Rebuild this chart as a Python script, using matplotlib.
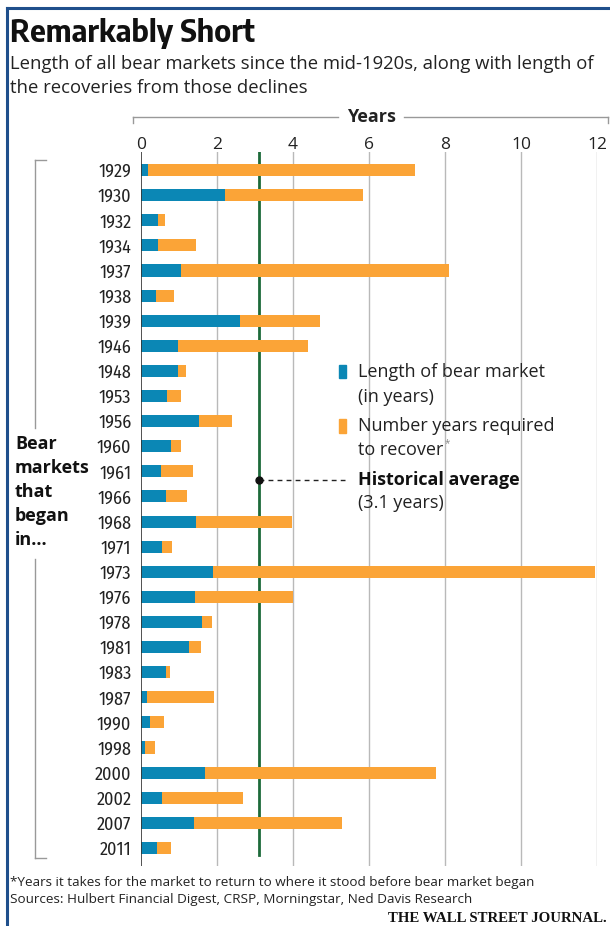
import matplotlib
matplotlib.use("Agg")
import matplotlib.pyplot as plt
from matplotlib.patches import Rectangle
from matplotlib.lines import Line2D

years = ["1929", "1930", "1932", "1934", "1937", "1938", "1939", "1946", "1948", "1953",
         "1956", "1960", "1961", "1966", "1968", "1971", "1973", "1976", "1978", "1981",
         "1983", "1987", "1990", "1998", "2000", "2002", "2007", "2011"]
bear_length = [0.19, 2.21, 0.46, 0.46, 1.04, 0.39, 2.60, 0.97, 0.98, 0.68,
               1.53, 0.79, 0.53, 0.65, 1.46, 0.56, 1.89, 1.42, 1.60, 1.27,
               0.65, 0.15, 0.23, 0.10, 1.68, 0.55, 1.40, 0.42]
recovery_years = [7.02, 3.64, 0.17, 1.00, 7.07, 0.48, 2.11, 3.43, 0.20, 0.37,
                  0.86, 0.26, 0.83, 0.55, 2.51, 0.26, 10.06, 2.59, 0.28, 0.31,
                  0.10, 1.77, 0.38, 0.27, 6.08, 2.13, 3.90, 0.37]
historical_avg = 3.1
x_ticks = [0, 2, 4, 6, 8, 10, 12]

BLUE = "#0b87b5"
ORANGE = "#fba437"
GREEN = "#1d6a3a"
GRID = "#b9b9b9"
NAVY = "#1f4f8c"

W, H = 610, 926
fig = plt.figure(figsize=(W / 100, H / 100), dpi=100)


def fx(x):
    return x / W


def fy(y):
    return 1 - y / H


def ftext(x, y, s, **kw):
    fig.text(fx(x), fy(y), s, **kw)


SANS = ["Open Sans", "DejaVu Sans"]
NARROW = ["Fira Sans Condensed", "Open Sans", "DejaVu Sans"]
TITLE = ["Encode Sans Semi Condensed", "Open Sans", "DejaVu Sans"]

ax_left, ax_right, ax_top, ax_bot = 141, 597, 152, 866
ax = fig.add_axes([fx(ax_left), fy(ax_bot), (ax_right - ax_left) / W, (ax_bot - ax_top) / H])
n = len(years)
ypos = list(range(n))
ax.barh(ypos, bear_length, height=0.48, color=BLUE, zorder=3)
ax.barh(ypos, recovery_years, left=bear_length, height=0.48, color=ORANGE, zorder=3)
ax.set_xlim(0, 12)
ax.set_ylim(n - 1 + 0.72, -0.72)
for s in ax.spines.values():
    s.set_visible(False)
for t in x_ticks[1:]:
    ax.axvline(t, color=GRID, lw=1.0, zorder=1)
ax.axvline(0, color="#333333", lw=1.2, zorder=4)
ax.plot([historical_avg, historical_avg], [-0.72, n - 1 + 0.29], color=GREEN, lw=2.0, zorder=2)
ax.set_xticks(x_ticks)
ax.set_xticklabels([str(t) for t in x_ticks])
ax.xaxis.tick_top()
ax.tick_params(axis="x", length=0, pad=-1, labelsize=12.5, colors="#222222")
for lab in ax.get_xticklabels():
    lab.set_family(SANS)
ax.set_yticks(ypos)
ax.set_yticklabels(years)
ax.tick_params(axis="y", length=0, pad=7, labelsize=13, colors="#222222")
for lab in ax.get_yticklabels():
    lab.set_family(NARROW)

# historical average pointer
yd = (480 - 170) / ((848 - 170) / (n - 1))
ax.plot([historical_avg, 5.37], [yd, yd], color="#222222", lw=1.0, ls=(0, (3.5, 3)), zorder=5, clip_on=False)
ax.plot([historical_avg], [yd], marker="o", ms=5, color="#111111", zorder=6)

# top "Years" bracket
fig.add_artist(Line2D([fx(133), fx(338)], [fy(117), fy(117)], color="#999999", lw=1.0))
fig.add_artist(Line2D([fx(404), fx(608)], [fy(117), fy(117)], color="#999999", lw=1.0))
fig.add_artist(Line2D([fx(133), fx(133)], [fy(117), fy(123)], color="#999999", lw=1.0))
fig.add_artist(Line2D([fx(608), fx(608)], [fy(117), fy(123)], color="#999999", lw=1.0))
ftext(371, 117, "Years", ha="center", va="center", fontsize=13, fontweight="bold", family=SANS,
      color="#222222")

# left bracket
for seg in [(160, 428), (559, 858)]:
    fig.add_artist(Line2D([fx(35), fx(35)], [fy(seg[0]), fy(seg[1])], color="#999999", lw=1.0))
fig.add_artist(Line2D([fx(35), fx(46)], [fy(160), fy(160)], color="#999999", lw=1.0))
fig.add_artist(Line2D([fx(35), fx(46)], [fy(858), fy(858)], color="#999999", lw=1.0))
for i, line in enumerate(["Bear", "markets", "that", "began", "in..."]):
    ftext(15, 444 + i * 24, line, ha="left", va="center", fontsize=13, fontweight="bold",
          family=SANS, color="#111111")

# legend
fig.add_artist(Rectangle((fx(339), fy(378)), 7 / W, 13 / H, color=BLUE, transform=fig.transFigure))
fig.add_artist(Rectangle((fx(339), fy(433)), 7 / W, 14 / H, color=ORANGE, transform=fig.transFigure))
ftext(358, 372, "Length of bear market", va="center", fontsize=13, family=SANS, color="#222222")
ftext(358, 397, "(in years)", va="center", fontsize=13, family=SANS, color="#222222")
ftext(358, 426, "Number years required", va="center", fontsize=13, family=SANS, color="#222222")
ftext(358, 450, "to recover", va="center", fontsize=13, family=SANS, color="#222222")
ftext(445, 444, "*", va="center", fontsize=7, family=SANS, color="#888888")
ftext(358, 480, "Historical average", va="center", fontsize=13, fontweight="bold", family=SANS, color="#111111")
ftext(358, 503, "(3.1 years)", va="center", fontsize=13, family=SANS, color="#222222")

# titles
ftext(10, 42, "Remarkably Short", fontsize=22, fontweight="bold", family=TITLE, color="#111111", va="baseline")
ftext(10, 69, "Length of all bear markets since the mid-1920s, along with length of",
      fontsize=13.3, family=SANS, color="#222222", va="baseline")
ftext(10, 93, "the recoveries from those declines", fontsize=13.3, family=SANS, color="#222222", va="baseline")

# footnotes
ftext(10, 886, "*Years it takes for the market to return to where it stood before bear market began",
      fontsize=9.7, family=SANS, color="#222222", va="baseline")
ftext(10, 903, "Sources: Hulbert Financial Digest, CRSP, Morningstar, Ned Davis Research",
      fontsize=9.7, family=SANS, color="#222222", va="baseline")
ftext(607, 922, "THE WALL STREET JOURNAL.", ha="right", fontsize=10.7, fontweight="bold",
      family=["Liberation Serif", "DejaVu Serif"], color="#111111", va="baseline")

# frame
fig.add_artist(Line2D([fx(7), fx(7)], [0, fy(8)], color=NAVY, lw=2.2))
fig.add_artist(Line2D([fx(7), 1], [fy(8), fy(8)], color=NAVY, lw=2.2))

fig.savefig("out.png", dpi=100)
